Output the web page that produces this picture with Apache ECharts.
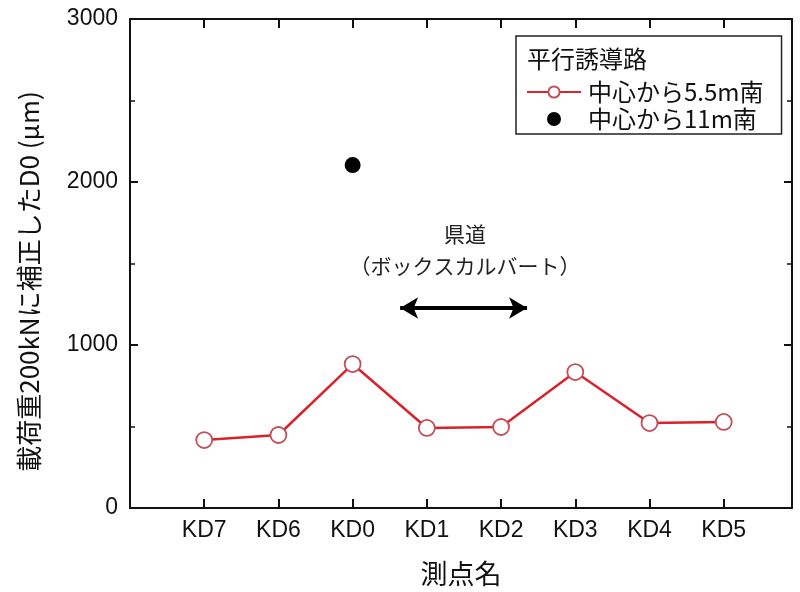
<!DOCTYPE html>
<html>
<head>
<meta charset="utf-8">
<script src="https://cdn.jsdelivr.net/npm/echarts@6/dist/echarts.min.js"></script>
<style>
  html, body { margin: 0; padding: 0; background: #fff; }
  #main { width: 800px; height: 592px; }
</style>
</head>
<body>
<div id="main"></div>
<script>
// 測点 (x 位置は 1 から順に並ぶ)
var stations = ['KD7', 'KD6', 'KD0', 'KD1', 'KD2', 'KD3', 'KD4', 'KD5'];
// 中心から5.5m南
var d0South55 = [417, 448, 883, 491, 497, 834, 521, 528];
// 中心から11m南 (KD0 のみ)
var d0South11 = [null, null, 2104, null, null, null, null, null];
var yTicks = [0, 1000, 2000, 3000];
// 県道（ボックスカルバート）の範囲 [x始点, x終点, 高さ]
var culvertRange = [3.64, 5.35, 1227];

var FONT = 'Liberation Sans, Noto Sans CJK JP';
var JP = 'Noto Sans CJK JP';
var GRID_TOP = 19, GRID_BOTTOM = 84, H = 592;

function toPairs(arr) {
  var out = [];
  arr.forEach(function (v, i) {
    if (v != null) out.push([i + 1, v]);
  });
  return out;
}

function xAxisBase() {
  return {
    type: 'value',
    min: 0,
    max: 8.92,
    interval: 1,
    splitLine: { show: false },
    axisLine: { show: true, onZero: false, lineStyle: { color: '#111', width: 2 } },
    axisTick: { show: true, inside: true, length: 9, lineStyle: { color: '#111', width: 2 } }
  };
}
function yAxisBase() {
  return {
    type: 'value',
    min: yTicks[0],
    max: yTicks[yTicks.length - 1],
    interval: 1000,
    splitLine: { show: false },
    axisLine: { show: true, onZero: false, lineStyle: { color: '#111', width: 2 } },
    axisTick: { show: true, inside: true, length: 8, lineStyle: { color: '#111', width: 2 } },
    minorTick: { show: true, splitNumber: 2, length: 5, lineStyle: { color: '#111', width: 1.5 } }
  };
}

var chart = echarts.init(document.getElementById('main'));

chart.setOption({
  animation: false,
  backgroundColor: '#fff',
  textStyle: { fontFamily: FONT },
  grid: { left: 130, right: 8, top: GRID_TOP, bottom: GRID_BOTTOM },
  title: {
    text: '平行誘導路',
    left: 527,
    top: 47,
    padding: 0,
    textStyle: { fontFamily: JP, fontSize: 24, fontWeight: 'normal', color: '#111' }
  },
  legend: {
    left: 516,
    top: 36,
    orient: 'vertical',
    borderColor: '#222',
    borderWidth: 1.5,
    padding: [44, 18, 3, 10],
    itemGap: 3,
    itemWidth: 54,
    itemHeight: 14,
    textStyle: { fontFamily: JP, fontSize: 24, color: '#111', padding: [0, 0, 0, 2] },
    data: ['中心から5.5m南', '中心から11m南']
  },
  xAxis: [
    Object.assign(xAxisBase(), {
      position: 'bottom',
      name: '測点名',
      nameLocation: 'middle',
      nameGap: 52,
      nameTextStyle: { fontFamily: JP, fontSize: 27, color: '#111' },
      axisLabel: {
        margin: 11,
        fontSize: 23,
        color: '#111',
        formatter: function (v) {
          var i = Math.round(v) - 1;
          return (Math.abs(v - Math.round(v)) < 1e-6 && stations[i]) ? stations[i] : '';
        }
      }
    }),
    // 上枠: 下側の軸を枠の上端まで持ち上げ、外向きの目盛りで下向きに描く
    Object.assign(xAxisBase(), {
      position: 'bottom',
      offset: -(H - GRID_TOP - GRID_BOTTOM),
      axisTick: { show: true, inside: false, length: 9, lineStyle: { color: '#111', width: 2 } },
      axisLabel: { show: false }
    })
  ],
  yAxis: [
    Object.assign(yAxisBase(), {
      position: 'left',
      name: '載荷重200kNに補正したD0 (μm)',
      nameLocation: 'middle',
      nameGap: 88,
      nameTextStyle: { fontFamily: JP, fontSize: 26, color: '#111', padding: [0, 36, 0, 0] },
      axisLabel: {
        margin: 12,
        fontSize: 23,
        color: '#111',
        formatter: function (v) { return String(v); }
      }
    }),
    Object.assign(yAxisBase(), { position: 'right', axisLabel: { show: false } })
  ],
  graphic: [
    {
      type: 'text',
      x: 465,
      y: 218,
      style: {
        text: '県道\n（ボックスカルバート）',
        align: 'center',
        verticalAlign: 'top',
        font: '21px "Noto Sans CJK JP"',
        lineHeight: 32,
        fill: '#222'
      }
    }
  ],
  series: [
    {
      name: '中心から5.5m南',
      type: 'line',
      data: toPairs(d0South55),
      symbol: 'circle',
      symbolSize: 16,
      lineStyle: { color: '#d8232a', width: 2.5 },
      itemStyle: { color: '#fff', borderColor: '#bf4f59', borderWidth: 1.8 },
      z: 3
    },
    {
      name: '中心から11m南',
      type: 'scatter',
      data: toPairs(d0South11),
      symbol: 'circle',
      symbolSize: 16,
      itemStyle: { color: '#000', opacity: 1 },
      markLine: {
        silent: true,
        symbol: ['arrow', 'arrow'],
        symbolSize: [16, 18],
        label: { show: false },
        lineStyle: { color: '#000', width: 4, type: 'solid' },
        data: [[
          { coord: [culvertRange[0], culvertRange[2]] },
          { coord: [culvertRange[1], culvertRange[2]] }
        ]]
      }
    }
  ]
});
</script>
</body>
</html>
